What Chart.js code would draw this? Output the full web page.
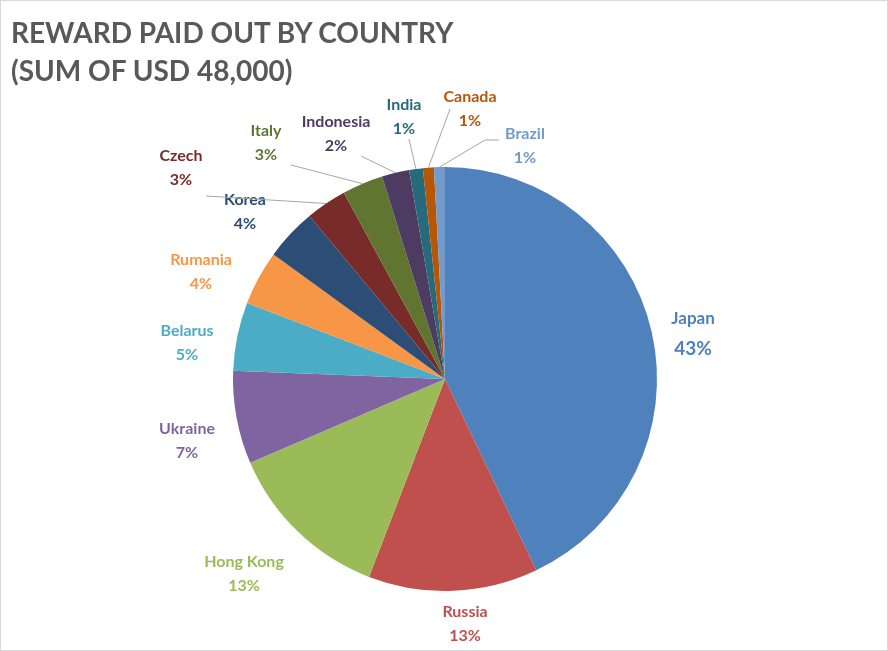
<!DOCTYPE html>
<html><head><meta charset="utf-8">
<script src="https://cdn.jsdelivr.net/npm/chart.js@4"></script>
<style>
html,body{margin:0;padding:0;background:#fff;}
#wrap{position:relative;width:888px;height:651px;box-sizing:border-box;border:1px solid #d9d9d9;}
#title{position:absolute;left:10px;top:12px;font:bold 28px Lato,"Open Sans",sans-serif;color:#595959;line-height:38px;}
canvas{position:absolute;left:0;top:0;}
</style></head><body>
<div id="wrap"><canvas id="c" width="888" height="651"></canvas>
<div id="title">REWARD PAID OUT BY COUNTRY<br>(SUM OF USD 48,000)</div></div>
<script>
const countries = ["Japan","Russia","Hong Kong","Ukraine","Belarus","Rumania","Korea","Czech","Italy","Indonesia","India","Canada","Brazil"];
const rewards = [20600,6200,6100,3400,2500,2000,1900,1500,1500,1000,500,400,400];
const colors = ["#4F81BD","#C0504D","#9BBB59","#8064A2","#4BACC6","#F79646","#2C4D75","#772C2A","#5F7530","#4D3B62","#276A7C","#B65708","#729ACA"];
// label anchor offsets relative to pie centre (label layout, not marks)
const labelOffsets = [[248,-48],[20,245],[-201,195],[-258,62],[-258,-36],[-244,-107],[-200,-167],[-264,-211],[-179,-236],[-109,-245],[-41,-262],[25,-270],[80,-233]];
const leader = [false,false,false,false,false,false,false,true,true,true,true,true,true];
const total = rewards.reduce((a,b)=>a+b,0);
const labelPlugin = {
  id:'labels',
  afterDatasetsDraw(chart){
    const ctx = chart.ctx;
    const meta = chart.getDatasetMeta(0);
    meta.data.forEach((arc,i)=>{
      const cx=arc.x, cy=arc.y, r=arc.outerRadius;
      const mid=(arc.startAngle+arc.endAngle)/2;
      const lx=cx+labelOffsets[i][0], ly=cy+labelOffsets[i][1];
      const big = i===0;
      if(leader[i]){
        const ex=cx+Math.cos(mid)*r, ey=cy+Math.sin(mid)*r;
        const ty = ly+28;
        let tx = lx + (i<=9 ? 18 : (i===12 ? -28 : 0));
        ctx.strokeStyle='#a6a6a6';ctx.lineWidth=1;ctx.beginPath();
        if(i<=9){ ctx.moveTo(i===7? lx+25: lx+25, i===7? ly+28: ly+22); ctx.lineTo(ex,ey);}
        else if(i===12){ ctx.moveTo(lx-26,ly-6); ctx.lineTo(lx-40,ly-6); ctx.lineTo(ex,ey);}
        else { ctx.moveTo(lx+(i===11?-20:5),ly+(i===11?0:22)); ctx.lineTo(ex,ey);}
        ctx.stroke();
      }
      ctx.fillStyle=colors[i];
      ctx.textAlign='center';ctx.textBaseline='middle';
      ctx.font=(big?'bold 17px':'bold 16px')+' Lato, "Open Sans", sans-serif';
      ctx.fillText(countries[i],lx,ly-12);
      ctx.font=(big?'bold 19px':'bold 16px')+' Lato, "Open Sans", sans-serif';
      ctx.fillText(Math.round(rewards[i]/total*100)+'%',lx,ly+12+(big?6:0));
    });
  }
};
new Chart(document.getElementById('c'),{
  type:'pie',
  data:{labels:countries,datasets:[{data:rewards,backgroundColor:colors,borderColor:'#fff',borderWidth:0}]},
  options:{responsive:false,animation:false,
    layout:{padding:{top:166,bottom:61,left:232,right:232}},
    plugins:{legend:{display:false},tooltip:{enabled:false}}},
  plugins:[labelPlugin]
});
</script></body></html>
